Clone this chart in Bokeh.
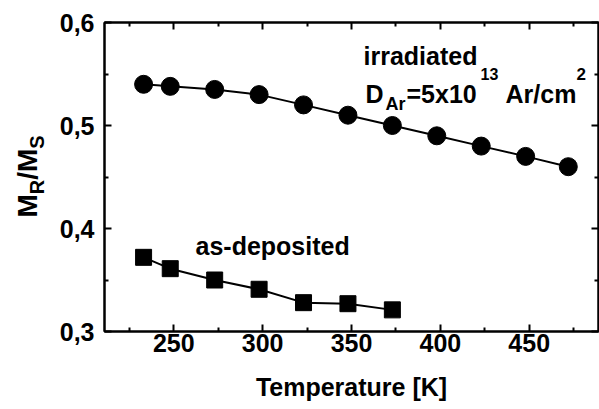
import math
from bokeh.plotting import figure
from bokeh.layouts import row
from bokeh.core.properties import value
from bokeh.models import Label, LinearAxis, FixedTicker, CustomJSTickFormatter, Range1d
from bokeh.embed import file_html
from bokeh.resources import INLINE

# ---- data ----
temp_irradiated = [233, 248, 273, 298, 323, 348, 373, 398, 423, 448, 472]
ratio_irradiated = [0.540, 0.538, 0.535, 0.530, 0.520, 0.510, 0.500, 0.490, 0.480, 0.470, 0.460]
temp_deposited = [233, 248, 273, 298, 323, 348, 373]
ratio_deposited = [0.372, 0.361, 0.350, 0.341, 0.328, 0.327, 0.321]

x_major = [250, 300, 350, 400, 450]
x_minor = [225, 275, 325, 375, 425, 475]
y_major = [0.3, 0.4, 0.5, 0.6]
y_minor = [0.35, 0.45, 0.55]

X0, X1 = 211, 489
Y0, Y1 = 0.3, 0.6
FONT = "Liberation Sans"
LEFT_W = 54

p = figure(width=599 - LEFT_W, height=409, x_range=Range1d(X0, X1), y_range=Range1d(Y0, Y1),
           output_backend="svg", toolbar_location=None,
           min_border_left=104 - LEFT_W, min_border_right=1, min_border_top=22, min_border_bottom=78)
p.background_fill_color = "white"
p.border_fill_color = "white"
p.outline_line_color = "black"
p.outline_line_width = 2
p.xgrid.visible = False
p.ygrid.visible = False

xt = FixedTicker(ticks=x_major, minor_ticks=x_minor)
yt = FixedTicker(ticks=y_major, minor_ticks=y_minor)

def style_axis(ax, show_labels):
    ax.axis_line_width = 2
    ax.axis_line_color = "black"
    ax.major_tick_in = 7
    ax.major_tick_out = 0
    ax.minor_tick_in = 4
    ax.minor_tick_out = 0
    ax.major_tick_line_width = 2
    ax.minor_tick_line_width = 2
    ax.major_tick_line_color = "black"
    ax.minor_tick_line_color = "black"
    if show_labels:
        ax.major_label_text_font = FONT
        ax.major_label_text_font_style = "bold"
        ax.major_label_text_font_size = "25px"
        ax.major_label_text_color = "black"
    else:
        ax.major_label_text_font_size = "0px"
        ax.major_label_standoff = 0
        ax.formatter = CustomJSTickFormatter(code="return ''")

xa = p.xaxis[0]
xa.ticker = xt
xa.formatter = CustomJSTickFormatter(code="return tick.toFixed(0)")
style_axis(xa, True)
xa.major_label_standoff = 2
xa.axis_label = "Temperature [K]"
xa.axis_label_text_font = FONT
xa.axis_label_text_font_style = "bold"
xa.axis_label_text_font_size = "25px"
xa.axis_label_text_color = "black"
xa.axis_label_standoff = 18

ya = p.yaxis[0]
ya.ticker = yt
ya.formatter = CustomJSTickFormatter(code="return tick.toFixed(1).replace('.', ',')")
style_axis(ya, True)
ya.major_label_standoff = 10

top = LinearAxis(ticker=xt)
style_axis(top, False)
p.add_layout(top, "above")
right = LinearAxis(ticker=yt)
style_axis(right, False)
p.add_layout(right, "right")

# ---- data marks ----
p.line(temp_irradiated, ratio_irradiated, line_color="black", line_width=2)
p.scatter(temp_irradiated, ratio_irradiated, marker="circle", size=18,
          fill_color="black", line_color="black")
p.line(temp_deposited, ratio_deposited, line_color="black", line_width=2)
p.scatter(temp_deposited, ratio_deposited, marker="square", size=16,
          fill_color="black", line_color="black")

# ---- text annotations (pixel positions in the page, relative to frame's bottom-left) ----
def lab(px, py, text, size):
    p.add_layout(Label(x=X0, y=Y0, x_offset=px - 104, y_offset=331 - py, text=text,
                       text_font=FONT, text_font_style="bold", text_font_size=f"{size}px",
                       text_color="black", text_align="left", text_baseline="alphabetic"))

lab(363, 55, "irradiated", 25)
lab(365, 93, "D", 25)
lab(385, 103, "Ar", 18)
lab(406, 93, "=5x10", 25)
lab(480, 73, "13", 16)
lab(505, 93, "Ar/cm", 25)
lab(576, 73, "2", 17)
lab(195, 245, "as-deposited", 25)

# ---- y axis title M_R/M_S in a narrow strip on the left ----
# (the strip's frame is aligned with the main frame: page rows 22..331)
q = figure(width=LEFT_W, height=409, x_range=Range1d(0, LEFT_W), y_range=Range1d(331, 22),
           output_backend="svg", toolbar_location=None,
           min_border_left=0, min_border_right=0, min_border_top=0, min_border_bottom=0)
q.axis.visible = False
q.grid.visible = False
q.outline_line_color = None
q.background_fill_color = "white"
q.border_fill_color = "white"

def ylab(px, py, text, size):
    q.text(x=[px], y=[py], text=[text], angle=math.pi / 2,
           text_font=value(FONT), text_font_style="bold", text_font_size=f"{size}px",
           text_color="black", text_align="left", text_baseline="middle")

ylab(27, 217, "M", 28)
ylab(36, 193.7, "R", 20)
ylab(27, 179.3, "/M", 28)
ylab(36, 148.2, "S", 20)

layout = row(q, p, spacing=0)
open("out.html", "w").write(file_html(layout, INLINE))
